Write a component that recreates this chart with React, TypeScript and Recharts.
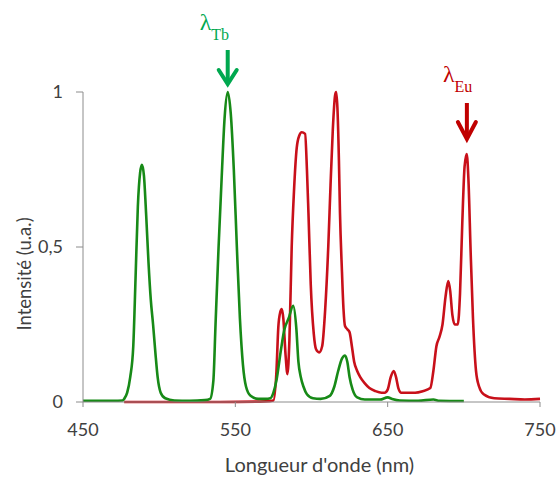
import React from 'react';
import { LineChart, Line, XAxis, YAxis, ReferenceDot } from 'recharts';

// Tb emission spectrum (green)
const tbWavelength = [
  450, 470, 476, 477, 479, 481, 483, 484.5, 486, 487.5, 488.7, 490, 491.5, 493, 494.5, 496, 497.5, 499, 501, 504, 510,
  520, 530, 533.4, 535.6, 537, 539, 541, 543, 545, 547, 549, 551, 553, 555, 557, 560, 565, 570,
  573, 575, 577, 580, 582, 585, 588, 590, 591.4, 593, 594.7, 597, 601, 606, 612, 615, 617.5, 620, 622, 623.5, 625,
  627, 630, 635, 645, 650, 653, 658, 670, 680, 684, 700,
];
const tbIntensity = [
  0.004, 0.004, 0.005, 0.01, 0.03, 0.08, 0.18, 0.4, 0.63, 0.74, 0.765, 0.73, 0.6, 0.45, 0.33, 0.25, 0.16, 0.08, 0.03, 0.012, 0.005,
  0.004, 0.006, 0.01, 0.07, 0.25, 0.5, 0.72, 0.92, 1.0, 0.93, 0.75, 0.5, 0.27, 0.12, 0.05, 0.02, 0.01, 0.01,
  0.012, 0.03, 0.07, 0.17, 0.23, 0.27, 0.31, 0.24, 0.13, 0.08, 0.05, 0.025, 0.012, 0.01, 0.02, 0.05, 0.1, 0.14, 0.15, 0.13, 0.08,
  0.04, 0.015, 0.008, 0.008, 0.015, 0.01, 0.005, 0.004, 0.008, 0.004, 0.003,
];

// Eu emission spectrum (red)
const euWavelength = [
  477, 500, 540, 570, 575, 577, 578.2, 579.5, 580.5, 581.5, 583, 584.2, 585.5, 587, 588.5, 590.3, 592, 593.6, 595.8,
  597, 598, 599.5, 601.5, 603, 605, 607, 609, 611, 612.5, 614, 615.5, 616.2, 617, 618, 618.7, 620, 621, 622, 623.5,
  625, 626.5, 628, 630, 632, 635, 638, 642, 646, 648, 650, 652, 654, 655.5, 657, 659, 663, 668, 673, 678, 680, 682,
  684, 686, 688, 689.8, 691, 692.5, 694, 696, 697.5, 699, 700.5, 701.9, 703, 704.5, 706, 708, 710, 713, 720, 730, 740, 750,
];
const euIntensity = [
  0, 0, 0, 0.002, 0.005, 0.1, 0.24, 0.29, 0.3, 0.27, 0.15, 0.09, 0.2, 0.5, 0.68, 0.82, 0.86, 0.87, 0.865,
  0.75, 0.61, 0.38, 0.22, 0.17, 0.16, 0.18, 0.3, 0.5, 0.7, 0.88, 0.99, 1.0, 0.95, 0.78, 0.61, 0.42, 0.3, 0.245, 0.235,
  0.225, 0.18, 0.13, 0.1, 0.08, 0.06, 0.045, 0.035, 0.03, 0.03, 0.04, 0.08, 0.1, 0.08, 0.045, 0.03, 0.03, 0.03, 0.035, 0.045, 0.1, 0.18,
  0.21, 0.25, 0.34, 0.39, 0.36, 0.28, 0.25, 0.25, 0.35, 0.58, 0.76, 0.8, 0.72, 0.48, 0.27, 0.1, 0.05, 0.025, 0.012, 0.01, 0.008, 0.01,
];

const xTicks = [450, 550, 650, 750];
const yTicks = [0, 0.5, 1];
const xAxisTitle = "Longueur d'onde (nm)";
const yAxisTitle = 'Intensité (u.a.)';
const tbLabel = { symbol: 'λ', sub: 'Tb', x: 545, y: 1 };
const euLabel = { symbol: 'λ', sub: 'Eu', x: 702, y: 0.8 };

const tbData = tbWavelength.map((x, i) => ({ x, v: tbIntensity[i] }));
const euData = euWavelength.map((x, i) => ({ x, v: euIntensity[i] }));

const GREEN_LINE = '#178a17';
const RED_LINE = '#c8101a';
const GREEN_NOTE = '#00a84f';
const RED_NOTE = '#c00000';
const AXIS = '#8c8c8c';
const TEXT = '#404040';
const FONT = 'Lato, Carlito, Calibri, sans-serif';

const TbArrow = (props: any) => {
  const { cx, cy } = props;
  return (
    <g>
      <text x={cx - 28} y={cy - 62} fill={GREEN_NOTE} fontFamily="Liberation Serif, serif">
        <tspan fontSize={24}>{tbLabel.symbol}</tspan>
        <tspan fontSize={16} dy={10}>{tbLabel.sub}</tspan>
      </text>
      <line x1={cx} y1={cy - 42} x2={cx} y2={cy - 9} stroke={GREEN_NOTE} strokeWidth={4} />
      <polyline points={`${cx - 9},${cy - 22} ${cx},${cy - 8} ${cx + 9},${cy - 22}`} fill="none" stroke={GREEN_NOTE} strokeWidth={4} strokeLinecap="round" />
    </g>
  );
};

const EuArrow = (props: any) => {
  const { cx, cy } = props;
  return (
    <g>
      <text x={cx - 24} y={cy - 72} fill={RED_NOTE} fontFamily="Liberation Serif, serif">
        <tspan fontSize={24}>{euLabel.symbol}</tspan>
        <tspan fontSize={16} dy={10}>{euLabel.sub}</tspan>
      </text>
      <line x1={cx} y1={cy - 51} x2={cx} y2={cy - 16} stroke={RED_NOTE} strokeWidth={4} />
      <polyline points={`${cx - 9},${cy - 32} ${cx},${cy - 15} ${cx + 9},${cy - 32}`} fill="none" stroke={RED_NOTE} strokeWidth={4} strokeLinecap="round" />
    </g>
  );
};

const XTitle = (props: any) => {
  const vb = props.viewBox || {};
  return (
    <text x={vb.x + vb.width / 2 + 8} y={vb.y + 70} textAnchor="middle" fill={TEXT} fontSize={20} fontFamily={FONT}>
      {xAxisTitle}
    </text>
  );
};

const YTitle = (props: any) => {
  const vb = props.viewBox || {};
  const x = vb.x + 24;
  const y = vb.y + vb.height / 2 + 27;
  return (
    <text x={x} y={y} transform={`rotate(-90, ${x}, ${y})`} textAnchor="middle" dominantBaseline="central" fill={TEXT} fontSize={18.5} fontFamily={FONT}>
      {yAxisTitle}
    </text>
  );
};

export default function App() {
  return (
    <div style={{ position: 'absolute', left: 0, top: 0, width: 559, height: 477, background: '#fff' }}>
      <LineChart width={559} height={477} margin={{ top: 92, right: 19, bottom: 0, left: 0 }}>
        <XAxis
          type="number"
          dataKey="x"
          domain={[450, 750]}
          ticks={xTicks}
          height={75}
          tickSize={5}
          tickMargin={16}
          stroke={AXIS}
          tick={{ fill: TEXT, fontSize: 18, fontFamily: FONT }}
          label={{ content: XTitle }}
        />
        <YAxis
          type="number"
          domain={[0, 1]}
          ticks={yTicks}
          width={83}
          tickSize={7}
          tickMargin={13}
          stroke={AXIS}
          tickFormatter={(v: number) => String(v).replace('.', ',')}
          tick={{ fill: TEXT, fontSize: 18, fontFamily: FONT }}
          label={{ content: YTitle }}
        />
        <Line data={euData} dataKey="v" type="monotone" stroke={RED_LINE} strokeWidth={2.6} dot={false} isAnimationActive={false} />
        <Line data={tbData} dataKey="v" type="monotone" stroke={GREEN_LINE} strokeWidth={2.6} dot={false} isAnimationActive={false} />
        <ReferenceDot x={tbLabel.x} y={tbLabel.y} shape={TbArrow} ifOverflow="visible" />
        <ReferenceDot x={euLabel.x} y={euLabel.y} shape={EuArrow} ifOverflow="visible" />
      </LineChart>
    </div>
  );
}
